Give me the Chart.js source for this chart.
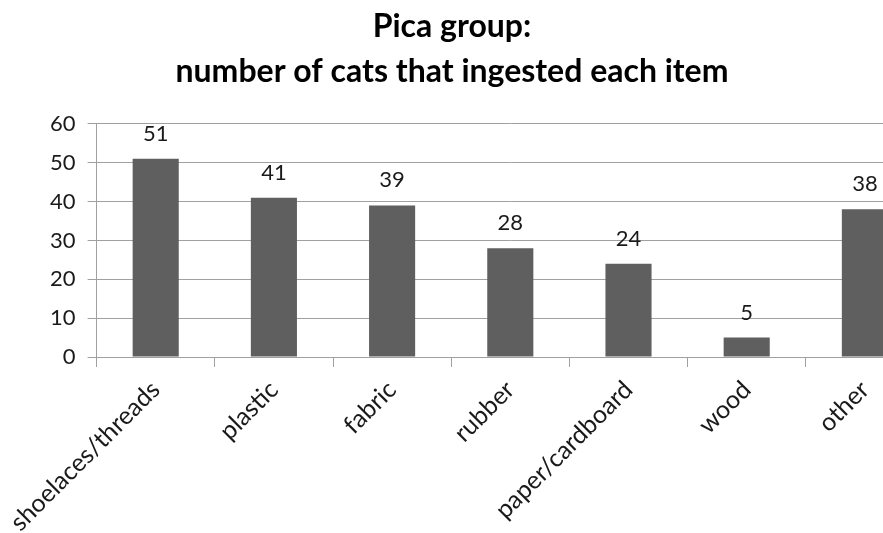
<!DOCTYPE html>
<html>
<head>
<meta charset="utf-8">
<script src="https://cdn.jsdelivr.net/npm/chart.js@4/dist/chart.umd.min.js"></script>
<style>
body{margin:0;background:#fff;overflow:hidden;}
#wrap{width:883px;height:533px;overflow:hidden;position:relative;}
</style>
</head>
<body>
<div id="wrap"><canvas id="myChart" width="930" height="533"></canvas></div>
<script>
// data
var categories = ['shoelaces/threads', 'plastic', 'fabric', 'rubber', 'paper/cardboard', 'wood', 'other'];
var cats_count = [51, 41, 39, 28, 24, 5, 38];
var y_ticks = [0, 10, 20, 30, 40, 50, 60];
var title_lines = ['Pica group:', 'number of cats that ingested each item'];

var FONT = 'Lato, "Open Sans", sans-serif';

// value labels above each bar
var valueLabels = {
	id: 'valueLabels',
	afterDatasetsDraw: function(chart){
		var ctx = chart.ctx;
		var meta = chart.getDatasetMeta(0);
		ctx.save();
		ctx.font = '22px ' + FONT;
		ctx.fillStyle = '#1a1a1a';
		ctx.textAlign = 'center';
		ctx.textBaseline = 'alphabetic';
		for(var i = 0; i < meta.data.length; i++){
			var bar = meta.data[i];
			ctx.fillText(String(cats_count[i]), bar.x, bar.y - 18);
		}
		ctx.restore();
	}
};

// title is centred on the visible part, not the whole (wider) canvas
var titleShift = {
	id: 'titleShift',
	afterLayout: function(chart){
		if(chart.titleBlock){
			chart.titleBlock.left = 0;
			chart.titleBlock.right = 904;
		}
	}
};

var ctx = document.getElementById('myChart');
var myChart = new Chart(ctx, {
	type: 'bar',
	data: {
		labels: categories,
		datasets: [{
			data: cats_count,
			backgroundColor: '#5f5f5f',
			borderWidth: 0,
			categoryPercentage: 1,
			barPercentage: 0.39
		}]
	},
	options: {
		responsive: false,
		animation: false,
		layout: { padding: { top: 0, right: 6, bottom: 0, left: 0 } },
		plugins: {
			legend: { display: false },
			tooltip: { enabled: false },
			title: {
				display: true,
				text: title_lines,
				color: '#000',
				font: { family: FONT, size: 32, weight: 'bold', lineHeight: 1.42 },
				padding: { top: 4, bottom: 29 }
			}
		},
		scales: {
			x: {
				offset: true,
				grid: {
					offset: true,
					drawOnChartArea: false,
					drawTicks: true,
					tickLength: 10,
					color: '#a0a0a0'
				},
				border: { color: '#a0a0a0' },
				ticks: {
					maxRotation: 45,
					minRotation: 45,
					autoSkip: false,
					color: '#1a1a1a',
					font: { family: FONT, size: 25 },
					padding: 8
				},
				afterFit: function(scale){ scale.height = 176; }
			},
			y: {
				min: 0,
				max: 60,
				afterBuildTicks: function(scale){
					scale.ticks = y_ticks.map(function(v){ return { value: v }; });
				},
				grid: {
					color: '#a0a0a0',
					tickLength: 9
				},
				border: { color: '#a0a0a0' },
				ticks: {
					color: '#1a1a1a',
					font: { family: FONT, size: 22 },
					padding: 12
				},
				afterFit: function(scale){ scale.width = 96; }
			}
		}
	},
	plugins: [valueLabels, titleShift]
});
</script>
</body>
</html>
